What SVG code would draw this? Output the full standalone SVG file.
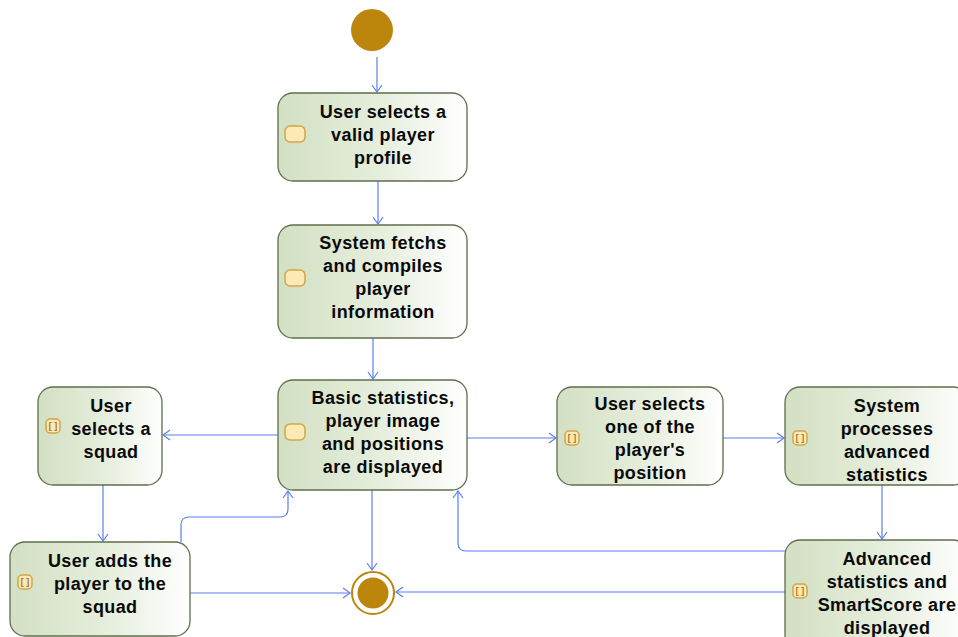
<svg xmlns="http://www.w3.org/2000/svg" width="958" height="637" viewBox="0 0 958 637">
  <defs>
    <linearGradient id="actFill" x1="0" y1="0" x2="1" y2="0">
      <stop offset="0" stop-color="#d3e0c3"/>
      <stop offset="0.55" stop-color="#e6eedd"/>
      <stop offset="1" stop-color="#ffffff"/>
    </linearGradient>
    <marker id="arrow" markerWidth="12" markerHeight="12" refX="9" refY="6" orient="auto" markerUnits="userSpaceOnUse">
      <path d="M2,1 L9,6 L2,11" fill="none" stroke="#5b7ff2" stroke-width="1.2"/>
    </marker>
  </defs>
  <style>
    .act { fill: url(#actFill); stroke: #5f6f4b; stroke-width: 1.3; }
    .lbl { font-family: "Liberation Sans", Arial, sans-serif; font-size: 18px; font-weight: bold; fill: #0a0a0a; text-anchor: middle; letter-spacing: 0.4px; }
    .icon { fill: #fde9b4; stroke: #d2a54a; stroke-width: 1.5; }
    .iconTxt { font-family: "Liberation Mono", monospace; font-size: 9px; font-weight: bold; fill: #a57a2a; text-anchor: middle; }
    .edge { fill: none; stroke: #5b7ff2; stroke-width: 1.2; marker-end: url(#arrow); }
  </style>
  <rect width="958" height="637" fill="#ffffff"/>

  <!-- connectors -->
  <g id="edges">
    <path class="edge" d="M377,57 L377,92"/>
    <path class="edge" d="M378,181 L378,224"/>
    <path class="edge" d="M373,338 L373,379"/>
    <path class="edge" d="M278,435 L163,435"/>
    <path class="edge" d="M103,485 L103,541"/>
    <path class="edge" d="M181,542 L181,525 Q181,517 189,517 L280,517 Q288,517 288,509 L288,491"/>
    <path class="edge" d="M372,490 L372,570"/>
    <path class="edge" d="M190,593 L350,593"/>
    <path class="edge" d="M467,438 L556,438"/>
    <path class="edge" d="M723,438 L784,438"/>
    <path class="edge" d="M882,485 L882,539"/>
    <path class="edge" d="M785,551 L466,551 Q458,551 458,543 L458,491"/>
    <path class="edge" d="M785,592 L396,592"/>
  </g>

  <!-- initial node -->
  <g id="start">
    <circle cx="372" cy="30" r="21" fill="#bb860b"/>
  </g>

  <!-- final node -->
  <g id="end">
    <circle cx="373" cy="593" r="21" fill="#ffffff" stroke="#bb860b" stroke-width="2"/>
    <circle cx="373" cy="593" r="15.5" fill="#bb860b"/>
  </g>

  <g id="selectProfile">
    <rect class="act" x="278" y="93" width="189" height="88" rx="15"/>
    <rect class="icon" x="285" y="126" width="20" height="16" rx="5"/>
    <text class="lbl" x="383" y="118">User selects a</text>
    <text class="lbl" x="383" y="141">valid player</text>
    <text class="lbl" x="383" y="164">profile</text>
  </g>

  <g id="fetchInfo">
    <rect class="act" x="278" y="225" width="189" height="113" rx="15"/>
    <rect class="icon" x="285" y="270" width="20" height="16" rx="5"/>
    <text class="lbl" x="383" y="249">System fetchs</text>
    <text class="lbl" x="383" y="272">and compiles</text>
    <text class="lbl" x="383" y="295">player</text>
    <text class="lbl" x="383" y="318">information</text>
  </g>

  <g id="basicStats">
    <rect class="act" x="278" y="380" width="189" height="110" rx="15"/>
    <rect class="icon" x="285" y="424" width="20" height="16" rx="5"/>
    <text class="lbl" x="383" y="404">Basic statistics,</text>
    <text class="lbl" x="383" y="427">player image</text>
    <text class="lbl" x="383" y="450">and positions</text>
    <text class="lbl" x="383" y="473">are displayed</text>
  </g>

  <g id="selectSquad">
    <rect class="act" x="38" y="387" width="124" height="98" rx="15"/>
    <rect class="icon" x="46" y="419" width="14" height="14" rx="4"/>
    <text class="iconTxt" x="53" y="429">[]</text>
    <text class="lbl" x="111" y="412">User</text>
    <text class="lbl" x="111" y="435">selects a</text>
    <text class="lbl" x="111" y="458">squad</text>
  </g>

  <g id="addToSquad">
    <rect class="act" x="10" y="542" width="180" height="94" rx="15"/>
    <rect class="icon" x="18" y="575" width="14" height="14" rx="4"/>
    <text class="iconTxt" x="25" y="585">[]</text>
    <text class="lbl" x="110" y="567">User adds the</text>
    <text class="lbl" x="110" y="590">player to the</text>
    <text class="lbl" x="110" y="613">squad</text>
  </g>

  <g id="selectPosition">
    <rect class="act" x="557" y="387" width="166" height="98" rx="15"/>
    <rect class="icon" x="565" y="431" width="14" height="14" rx="4"/>
    <text class="iconTxt" x="572" y="441">[]</text>
    <text class="lbl" x="650" y="410">User selects</text>
    <text class="lbl" x="650" y="433">one of the</text>
    <text class="lbl" x="650" y="456">player's</text>
    <text class="lbl" x="650" y="479">position</text>
  </g>

  <g id="processAdvanced">
    <rect class="act" x="785" y="387" width="183" height="98" rx="15"/>
    <rect class="icon" x="793" y="431" width="14" height="14" rx="4"/>
    <text class="iconTxt" x="800" y="441">[]</text>
    <text class="lbl" x="887" y="412">System</text>
    <text class="lbl" x="887" y="435">processes</text>
    <text class="lbl" x="887" y="458">advanced</text>
    <text class="lbl" x="887" y="481">statistics</text>
  </g>

  <g id="showAdvanced">
    <rect class="act" x="785" y="540" width="183" height="110" rx="15"/>
    <rect class="icon" x="793" y="584" width="14" height="14" rx="4"/>
    <text class="iconTxt" x="800" y="594">[]</text>
    <text class="lbl" x="887" y="565">Advanced</text>
    <text class="lbl" x="887" y="588">statistics and</text>
    <text class="lbl" x="887" y="611">SmartScore are</text>
    <text class="lbl" x="887" y="634">displayed</text>
  </g>
</svg>
